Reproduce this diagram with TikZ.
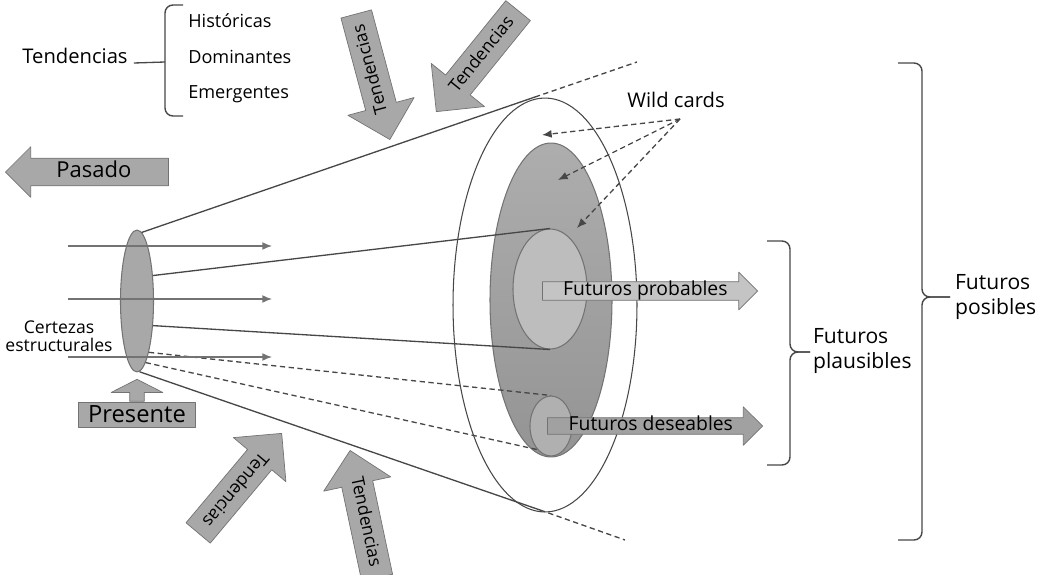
\documentclass[tikz,border=0pt]{standalone}
\usepackage{fontspec}
\setmainfont{Open Sans}
\usetikzlibrary{shapes.geometric,shapes.arrows,arrows.meta}

\definecolor{trazo}{gray}{0.28}
\definecolor{borde}{gray}{0.45}
\definecolor{bloque}{gray}{0.66}
\definecolor{anillo}{gray}{0.58}
\definecolor{anillotop}{gray}{0.68}
\definecolor{probable}{gray}{0.74}
\definecolor{deseable}{gray}{0.69}
\definecolor{claro}{gray}{0.77}
\definecolor{oscuro}{gray}{0.63}

\tikzset{
  elipse/.style={ellipse, draw=trazo, line width=0.6pt, inner sep=0pt},
  tendencia/.style={single arrow, draw=borde, fill=bloque, anchor=tip, shape border rotate=180,
    font=\fontsize{10}{11}\selectfont, text height=7.5pt, text depth=2.2pt, inner ysep=3.95pt, inner xsep=2pt,
    single arrow head extend=10.5pt, minimum height=2.6cm},
  futuro/.style={single arrow, draw=borde, anchor=tip, font=\fontsize{11}{12}\selectfont,
    text height=7.5pt, text depth=2pt, inner xsep=2pt, minimum height=4.3cm},
  llave/.style={draw=trazo, line width=0.8pt, rounded corners=0.16cm},
  rayo/.style={draw=trazo, line width=0.75pt},
}

\begin{document}
\begin{tikzpicture}[x=0.02cm, y=-0.02cm, >={Latex[length=5.5pt,width=4.5pt]}, line join=round]
\useasboundingbox (0,0) rectangle (1039,575);

% elipses
\node[elipse, minimum width=3.68cm, minimum height=8.28cm] (posib) at (545,305) {};
\node[elipse, top color=anillotop, bottom color=anillo, draw=borde, minimum width=2.44cm, minimum height=6.28cm] (plaus) at (551,300) {};
\node[elipse, fill=probable, draw=borde, minimum width=1.48cm, minimum height=2.4cm] (prob) at (550,289) {};
\node[elipse, fill=deseable, draw=borde, minimum width=0.84cm, minimum height=1.2cm] (des) at (551,426) {};
\node[elipse, fill=bloque, draw=borde, minimum width=0.66cm, minimum height=2.84cm] (cert) at (137,301) {};

% rayos del cono
\coordinate (tanS) at (535,97);
\coordinate (finS) at (637,62);
\coordinate (tanI) at (540,510);
\coordinate (finI) at (625,540);
\draw[rayo] (cert.86) -- (tanS);
\draw[rayo, densely dashed] (tanS) -- (finS);
\draw[rayo] (cert.58) -- (prob.north);
\draw[rayo] (cert.-57) -- (prob.south);
\draw[rayo, densely dashed] (cert.-77) -- (des.north);
\draw[rayo, densely dashed] (cert.-82) -- (des.240);
\draw[rayo] (cert.-88) -- (tanI);
\draw[rayo, densely dashed] (tanI) -- (finI);

% flechas paralelas
\foreach \y [count=\i] in {246,299,357}{
  \coordinate (ini\i) at (68,\y);
  \coordinate (fin\i) at (272,\y);
  \draw[->, draw=borde, line width=0.8pt] (ini\i) -- (fin\i);
}
\node[align=center, inner sep=0pt, font=\fontsize{10}{10.4}\selectfont] (certezas) at (59,336) {Certezas\\estructurales};

% presente y pasado
\node[draw=borde, fill=bloque, minimum width=2.34cm, minimum height=0.5cm, inner sep=0pt,
  font=\fontsize{13.5}{15}\selectfont] (presente) at (137,414.5) {Presente};
\node[single arrow, draw=borde, fill=bloque, rotate=90, anchor=tail, inner xsep=0pt, inner ysep=0.14cm,
  single arrow head extend=0.37cm, single arrow tip angle=126, minimum height=0.44cm] (subida) at (presente.north) {};
\node[single arrow, draw=borde, fill=bloque, anchor=tip, shape border rotate=180,
  font=\fontsize{12.5}{14}\selectfont, text height=9pt, text depth=2.5pt, inner ysep=1.9pt,
  single arrow head extend=6.5pt, minimum height=3.26cm] (pasado) at (5,172) {Pasado};

% tendencias
\node[tendencia, rotate=105] (t1) at (390,140) {Tendencias};
\node[tendencia, rotate=51] (t2) at (436,112) {Tendencias};
\node[tendencia, rotate=230] (t3) at (282,433) {Tendencias};
\node[tendencia, rotate=-78] (t4) at (350,450) {Tendencias};

\node[font=\fontsize{11.5}{13}\selectfont, anchor=base] (tendencias) at (75,63) {Tendencias};
\draw[llave] (183,5) -- (165,5) -- (165,116) -- (183,116);
\coordinate (punta) at (165,62);
\draw[rayo] (tendencias.base east) -- (punta);
\foreach \t/\y [count=\i] in {Históricas/27, Dominantes/63, Emergentes/98}
  \node[anchor=base west, inner sep=0pt, font=\fontsize{10.3}{12}\selectfont] (tipo\i) at (188,\y) {\t};

% wild cards
\node[anchor=base west, inner sep=0pt, font=\fontsize{11.5}{13}\selectfont] (wild) at (627,107) {Wild cards};
\coordinate (wc) at (680,119);
\foreach \x/\y [count=\i] in {542/135, 558/180, 577/228}{
  \coordinate (w\i) at (\x,\y);
  \draw[->, rayo, densely dashed] (wc) -- (w\i);
}

% futuros
\node[futuro, fill=claro, inner ysep=0.35pt, single arrow head extend=5.4pt] (fprob) at (758,291) {Futuros probables};
\node[futuro, fill=oscuro, inner ysep=0.05pt, text height=7pt, single arrow head extend=6.2pt] (fdes) at (763,426) {Futuros deseables};

\draw[llave] (767,241) -- (790,241) -- (790,352) -- (810,352);
\draw[llave] (810,352) -- (790,352) -- (790,465) -- (767,465);
\node[anchor=west, align=left, inner sep=1pt, font=\fontsize{12}{14.2}\selectfont] (plausibles) at (811,351) {Futuros\\plausibles};

\draw[llave] (898,63) -- (922,63) -- (922,297) -- (950,297);
\draw[llave] (950,297) -- (922,297) -- (922,540) -- (898,540);
\node[anchor=west, align=left, inner sep=1pt, font=\fontsize{12}{14.2}\selectfont] (posibles) at (953,297) {Futuros\\posibles};
\end{tikzpicture}
\end{document}
